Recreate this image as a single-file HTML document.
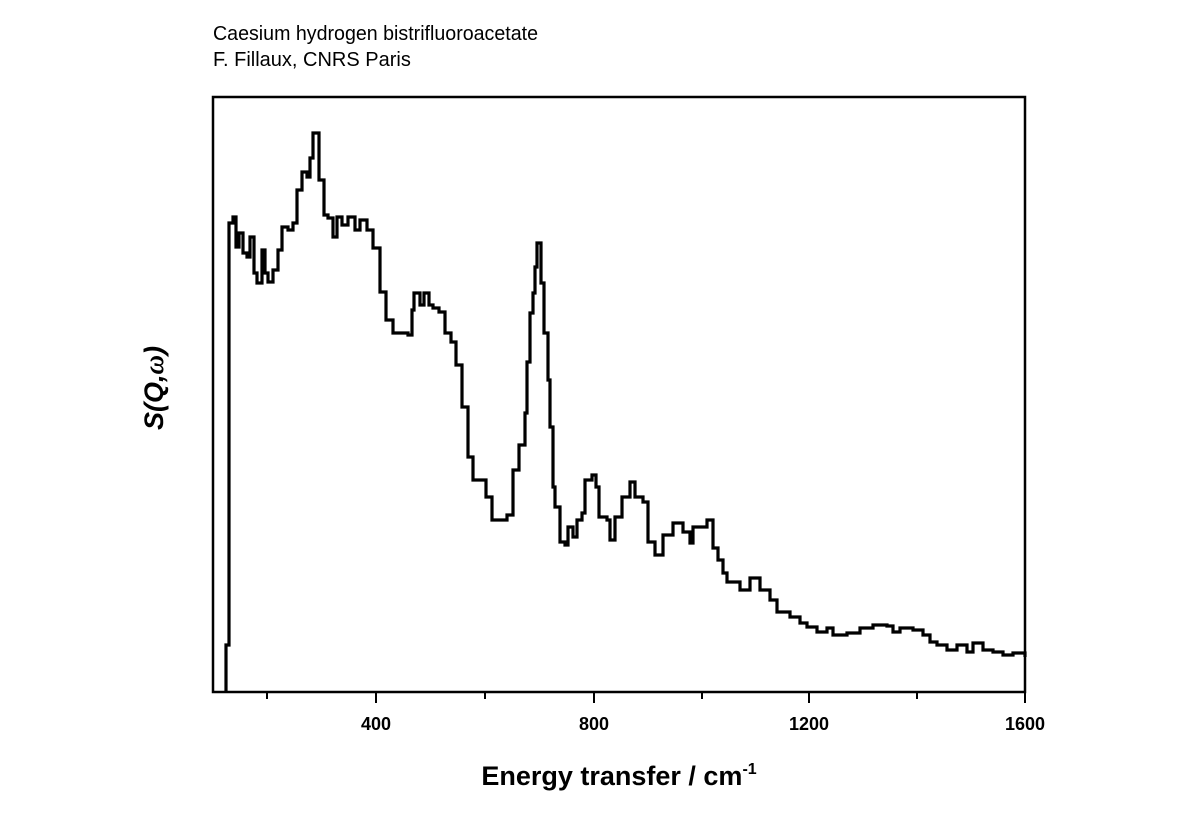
<!DOCTYPE html>
<html><head><meta charset="utf-8"><style>
body{margin:0;background:#fff;}
</style></head><body>
<svg width="1191" height="831" xmlns="http://www.w3.org/2000/svg" style="display:block">
<rect width="1191" height="831" fill="#fff"/>
<text x="213" y="40" font-family="Liberation Sans, sans-serif" font-size="20" textLength="325" lengthAdjust="spacingAndGlyphs">Caesium hydrogen bistrifluoroacetate</text>
<text x="213" y="66" font-family="Liberation Sans, sans-serif" font-size="20">F. Fillaux, CNRS Paris</text>
<rect x="213" y="97" width="812" height="595" fill="none" stroke="#000" stroke-width="2.5"/>
<g stroke="#000" stroke-width="2">
<line x1="267" y1="692" x2="267" y2="699"/>
<line x1="376" y1="692" x2="376" y2="703"/>
<line x1="485" y1="692" x2="485" y2="699"/>
<line x1="594" y1="692" x2="594" y2="703"/>
<line x1="702" y1="692" x2="702" y2="699"/>
<line x1="809" y1="692" x2="809" y2="703"/>
<line x1="917" y1="692" x2="917" y2="699"/>
<line x1="1025" y1="692" x2="1025" y2="703"/>
</g>
<g font-family="Liberation Sans, sans-serif" font-size="18" font-weight="bold" text-anchor="middle">
<text x="376" y="730">400</text><text x="594" y="730">800</text><text x="809" y="730">1200</text><text x="1025" y="730">1600</text>
</g>
<text x="619" y="785" font-family="Liberation Sans, sans-serif" font-size="27" font-weight="bold" text-anchor="middle">Energy transfer / cm<tspan font-size="16" dy="-11">-1</tspan></text>
<text transform="translate(163,388) rotate(-90)" font-family="Liberation Sans, sans-serif" font-size="27" font-weight="bold" font-style="italic" text-anchor="middle">S(Q,<tspan font-family="Liberation Serif, serif">ω</tspan>)</text>
<path fill="none" stroke="#000" stroke-width="3.2" stroke-linejoin="miter" id="curve" d=""/>
</svg>
<script>
var p=[[226,692],[226,645],[229,645],[229,223],[233,217],[236,247],[239,233],[243,253],[247,257],[250,237],[254,273],[257,283],[262,250],[265,273],[268,282],[273,270],[278,250],[282,227],[288,230],[293,223],[297,190],[302,172],[307,177],[310,158],[313,133],[319,180],[324,215],[328,218],[333,237],[337,217],[342,225],[348,217],[355,230],[360,220],[367,230],[373,248],[380,292],[386,320],[393,333],[408,335],[412,310],[414,293],[420,305],[424,293],[429,305],[433,308],[439,312],[445,333],[451,342],[456,365],[462,407],[468,457],[473,480],[486,497],[492,520],[507,515],[513,470],[519,445],[525,413],[527,362],[530,313],[533,293],[535,267],[537,243],[541,283],[544,333],[548,380],[550,427],[553,487],[555,507],[560,542],[565,545],[568,527],[573,537],[577,520],[582,513],[585,480],[592,475],[596,487],[599,517],[607,520],[610,540],[615,517],[622,497],[630,482],[635,497],[643,502],[648,542],[655,555],[663,535],[673,523],[683,532],[690,543],[693,527],[700,527],[707,520],[713,548],[718,560],[723,573],[727,582],[740,590],[750,578],[760,590],[770,600],[777,612],[790,617],[800,623],[807,627],[817,632],[827,628],[833,635],[847,633],[860,628],[873,625],[887,626],[893,632],[900,628],[913,630],[923,635],[930,642],[937,645],[947,650],[957,645],[967,652],[973,643],[983,650],[993,652],[1003,655],[1013,653],[1025,657]];
var d="M"+p[0][0]+" "+p[0][1];
for(var i=1;i<p.length;i++){d+=" H"+p[i][0]+" V"+p[i][1];}
document.getElementById("curve").setAttribute("d",d);
</script>
</body></html>
